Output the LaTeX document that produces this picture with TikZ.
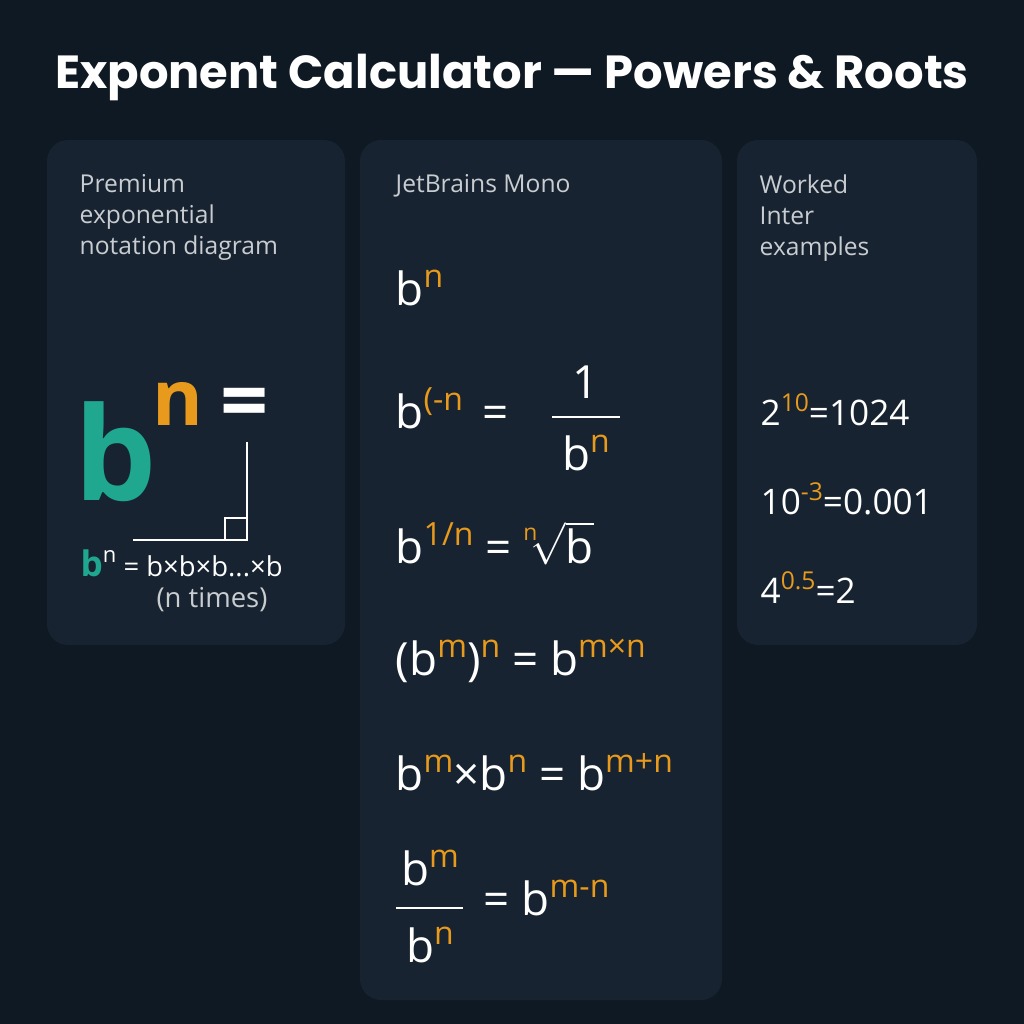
\documentclass[tikz,border=0pt]{standalone}
\usepackage{fontspec}
\usepackage{graphicx}
\setmainfont{Open Sans}
\newfontfamily\titlefont{Poppins}
\usetikzlibrary{positioning}
\definecolor{bgdark}{HTML}{0F1923}
\definecolor{panel}{HTML}{172330}
\definecolor{expo}{HTML}{E89A1C}
\definecolor{basecol}{HTML}{1FA88F}
\definecolor{dim}{HTML}{C9CDD2}
\newcommand\up[1]{\raisebox{0.38em}{\color{expo}\scalebox{0.7}{#1}}}
\tikzset{
  panelbox/.style={fill=panel, rounded corners=6pt, draw=none},
  caption/.style={text=dim, font=\fontsize{7pt}{8.8pt}\selectfont, align=left, anchor=north west, inner sep=0pt},
  formula/.style={text=white, font=\fontsize{13pt}{15pt}\selectfont, anchor=base west, inner sep=0pt},
  worked/.style={text=white, font=\fontsize{10pt}{12pt}\selectfont, anchor=base west, inner sep=0pt},
  rule/.style={draw=white, line width=0.6pt}
}
\begin{document}
\begin{tikzpicture}[x=0.01cm, y=-0.01cm]
\fill[bgdark] (0,0) rectangle (1024,1024);
\useasboundingbox (0,0) rectangle (1024,1024);
% title
\node[text=white, font=\titlefont\bfseries\fontsize{13.2pt}{15pt}\selectfont] (title) at (512,77) {Exponent Calculator — Powers \& Roots};
% panels
\fill[panelbox] (47,140) rectangle (345,645);
\fill[panelbox] (360,140) rectangle (722,1000);
\fill[panelbox] (737,140) rectangle (977,645);
\node[caption] (capL) at (79,174) {Premium\\exponential\\notation diagram};
\node[caption] (capM) at (395,174) {JetBrains Mono};
\node[caption] (capR) at (759,174) {Worked\\Inter\\examples};
% left diagram
\node[text=basecol, font=\bfseries\fontsize{37pt}{40pt}\selectfont, anchor=base west, inner sep=0pt] (bigb) at (74,500) {b};
\node[text=expo, font=\bfseries\fontsize{22pt}{24pt}\selectfont, anchor=base west, inner sep=0pt] (bign) at (152,425) {n};
\node[text=white, font=\bfseries\fontsize{24pt}{26pt}\selectfont, anchor=base west, inner sep=0pt] (bigeq) at (220,430) {=};
\coordinate (cTop) at (247,442);
\coordinate (cCorner) at (247,540);
\coordinate (cLeft) at (133,540);
\draw[rule] (cTop) -- (cCorner) -- (cLeft);
\draw[rule] (225,540) -- (225,518) -- (247,518);
\node[text=white, font=\fontsize{7.8pt}{9pt}\selectfont, anchor=base west, inner sep=0pt] (expand) at (80,576)
  {{\color{basecol}\fontsize{10pt}{12pt}\selectfont\bfseries b}\raisebox{0.5em}{\color{white}\scalebox{0.8}{n}} = b×b×b...×b};
\node[text=dim, font=\fontsize{7.8pt}{9pt}\selectfont, anchor=base] (times) at (212,607) {(n times)};
% middle formulas
\node[formula] (f1) at (395,305) {b\up{n}};
\node[formula] (f2) at (395,428) {b\up{(-n} \,=};
\node[formula, anchor=base] (f2num) at (586,398) {1};
\node[formula, anchor=base] (f2den) at (586,470) {b\up{n}};
\draw[rule] (552,417) -- (620,417);
\node[formula] (f3) at (395,563) {b\up{1/n} = \raisebox{0.5em}{\color{expo}\scalebox{0.5}{n}}\kern-0.15em$\sqrt{\mbox{b}}$};
\node[formula] (f4) at (395,675) {(b\up{m})\up{n} = b\up{m×n}};
\node[formula] (f5) at (395,790) {b\up{m}×b\up{n} = b\up{m+n}};
\node[formula, anchor=base] (f6num) at (430,885) {b\up{m}};
\node[formula, anchor=base] (f6den) at (430,962) {b\up{n}};
\draw[rule] (396,908) -- (463,908);
\node[formula] (f6) at (483,915) {= b\up{m-n}};
% worked examples
\node[worked] (w1) at (760,425) {2\up{10}=1024};
\node[worked] (w2) at (760,514) {10\up{-3}=0.001};
\node[worked] (w3) at (760,603) {4\up{0.5}=2};
\end{tikzpicture}
\end{document}
